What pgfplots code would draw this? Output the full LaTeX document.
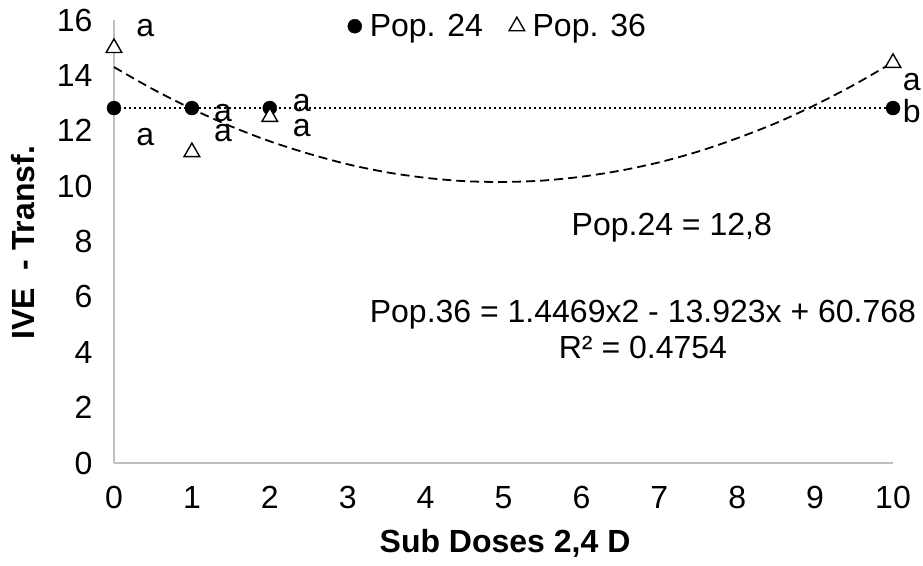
\documentclass[border=0pt]{standalone}
\usepackage{fontspec}
\setmainfont{Liberation Sans}
\usepackage{pgfplots}
\pgfplotsset{compat=1.18}
\definecolor{axgray}{HTML}{BFBFBF}
\begin{document}
\begin{tikzpicture}[font=\fontsize{32}{38}\selectfont]
\useasboundingbox (-114pt,-102pt) rectangle (809pt,463pt);
\begin{axis}[
  at={(0pt,0pt)}, anchor=south west,
  width=779pt, height=443pt, scale only axis,
  xmin=0, xmax=10, ymin=0, ymax=16,
  xtick={0,1,2,3,4,5,6,7,8,9,10},
  ytick={0,2,4,6,8,10,12,14,16},
  axis x line*=bottom, axis y line*=left,
  axis line style={draw=axgray, line width=1.5pt, -},
  major tick length=0pt,
  /pgf/number format/assume math mode=true,
  yticklabel style={xshift=-18pt},
  xticklabel style={yshift=-20pt},
  xlabel={\bfseries Sub Doses 2,4 D},
  ylabel={\bfseries IVE\ \ - Transf.},
  xlabel style={at={(axis description cs:0.502,0)}, anchor=base, yshift=-89pt},
  ylabel style={at={(axis description cs:0,0.497)}, anchor=center, yshift=91pt},
  clip=false,
  legend columns=2,
  legend style={draw=none, fill=none, at={(axis description cs:0.296,0.986)}, anchor=west,
    /tikz/every odd column/.append style={column sep=6pt},
    /tikz/every even column/.append style={column sep=24pt}},
]
% trend lines
\addplot[forget plot, black, line width=2pt, dash pattern=on 2pt off 3pt] coordinates {(0,12.82) (10,12.82)};
\addplot[forget plot, black, line width=1.8pt, dash pattern=on 9pt off 5pt, smooth] coordinates {
(0,14.30) (0.5,13.50) (1,12.79) (1.5,12.16) (2,11.62) (2.5,11.17) (3,10.79) (3.5,10.50)
(4,10.30) (4.5,10.18) (5,10.15) (5.5,10.20) (6,10.34) (6.5,10.56) (7,10.86) (7.5,11.25)
(8,11.73) (8.5,12.28) (9,12.93) (9.5,13.66) (10,14.47)};
% data
\addplot[only marks, mark=*, mark size=7pt, black] coordinates {(0,12.82) (1,12.82) (2,12.82) (10,12.82)};
\addlegendentry{Pop. 24}
\addplot[only marks, mark=triangle*, mark size=9pt, mark options={fill=white, draw=black, line width=1.4pt}] coordinates {(0,14.99) (1,11.23) (2,12.50) (10,14.45)};
\addlegendentry{Pop. 36}
% letters
\node at (axis cs:0.40,15.71) {a};
\node at (axis cs:0.40,11.77) {a};
\node at (axis cs:1.40,12.64) {a};
\node at (axis cs:1.40,11.92) {a};
\node at (axis cs:2.41,13.00) {a};
\node at (axis cs:2.41,12.10) {a};
\node at (axis cs:10.24,13.76) {a};
\node at (axis cs:10.24,12.70) {b};
% equations
\node[anchor=base] at (axis cs:7.16,8.23) {Pop.24 = 12,8};
\node[anchor=base] at (axis cs:6.79,5.06) {Pop.36 = 1.4469x2 - 13.923x + 60.768};
\node[anchor=base] at (axis cs:6.79,3.79) {R² = 0.4754};
\end{axis}
\end{tikzpicture}
\end{document}
